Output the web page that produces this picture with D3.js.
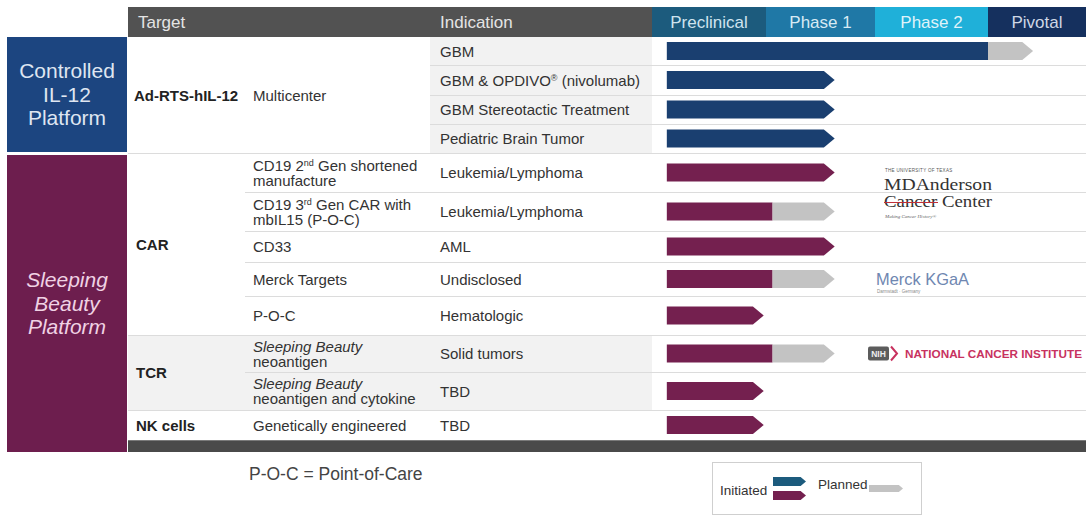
<!DOCTYPE html>
<html><head><meta charset="utf-8">
<script src="https://cdn.jsdelivr.net/npm/d3@7"></script>
<style>body{margin:0;background:#fff}svg{display:block}</style>
</head><body>
<svg id="c" width="1086" height="517" font-family="Liberation Sans, Arial, Helvetica, sans-serif"></svg>
<script>
// ---------- data ----------
const phases = ["Preclinical", "Phase 1", "Phase 2", "Pivotal"];
const platforms = ["Controlled|IL-12|Platform", "Sleeping|Beauty|Platform"];
const platformOfRow = [0,0,0,0,1,1,1,1,1,1,1,1];
const targets = ["Ad-RTS-hIL-12", "CAR", "TCR", "NK cells"];
const targetOfRow = [0,0,0,0,1,1,1,1,1,2,2,3];
const subTargets = ["Multicenter", "CD19 2{nd} Gen shortened|manufacture", "CD19 3{rd} Gen CAR with|mbIL15 (P-O-C)", "CD33", "Merck Targets", "P-O-C", "*Sleeping Beauty|neoantigen", "*Sleeping Beauty|neoantigen and cytokine", "Genetically engineered"];
const subTargetOfRow = [0,0,0,0,1,2,3,4,5,6,7,8];
const indications = ["GBM", "GBM & OPDIVO{®} (nivolumab)", "GBM Stereotactic Treatment", "Pediatric Brain Tumor", "Leukemia/Lymphoma", "Leukemia/Lymphoma", "AML", "Undisclosed", "Hematologic", "Solid tumors", "TBD", "TBD"];
// progress in phase units (0 = start of Preclinical, 4 = end of Pivotal)
const barStart = 0.13;
const initiatedEnd = [3.0, 1.63, 1.63, 1.63, 1.63, 1.06, 1.63, 1.06, 0.98, 1.06, 0.98, 0.98];
const plannedEnd = [3.46, null, null, null, null, 1.63, null, 1.63, null, 1.63, null, null];
const partners = ["MD Anderson", "Merck KGaA", "National Cancer Institute"];
const partnerRow = [4, 7, 9];
const footnote = "P-O-C = Point-of-Care";
const legendLabels = ["Initiated", "Planned"];

// ---------- layout / style ----------
const rowHeights = [28,30,29,29,39,39,31,34,39,37,38,30];
const tableTop = 37;
const colX = {plat: 7, platW: 120, target: 128, sub: 245, ind: 430, phase: 652, right: 1086};
const platformColors = ["#1c4580", "#6d1e4e"];
const platformText = ["#dfe6f1", "#f0d2e4"];
const barColors = ["#1a3f70", "#74204f"];
const plannedColor = "#c3c3c3";
const phaseColors = ["#1c5b7d", "#1f78a6", "#1fb0d9", "#15305e"];
const phaseTextColors = ["#cfe4ef", "#d7eaf4", "#dff3fa", "#cfd7e5"];
const textColor = "#333";
const lineColor = "#dcdcdc";
const shade = "#f2f2f2";
const fs = 15;

const svg = d3.select("#c");
const x = d3.scaleLinear().domain([0,1,2,3,4]).range([652, 766, 875, 988, 1086]);

const rowY = [];
{ let y = tableTop; rowHeights.forEach(h => { rowY.push(y); y += h; }); rowY.push(y); }
const rowMid = i => (rowY[i] + rowY[i+1]) / 2;
const tableBottom = rowY[rowY.length-1];

function rich(sel, str, size) {
  const parts = str.split(/(\{[^}]*\})/).filter(s => s.length);
  let sup = false;
  parts.forEach(p => {
    if (p.startsWith("{")) {
      sel.append("tspan").attr("dy", -5).attr("font-size", size*0.6).text(p.slice(1,-1));
      sup = true;
    } else {
      const t = sel.append("tspan").text(p);
      if (sup) { t.attr("dy", 5); sup = false; }
    }
  });
}

// ---------- backgrounds ----------
svg.append("rect").attr("x", colX.ind).attr("y", rowY[0]).attr("width", colX.phase - colX.ind)
  .attr("height", rowY[4]-rowY[0]).attr("fill", shade);
{
  const rows = d3.range(12).filter(i => targetOfRow[i] === 2);
  svg.append("rect").attr("x", colX.target).attr("y", rowY[rows[0]]).attr("width", colX.phase - colX.target)
    .attr("height", rowY[rows[rows.length-1]+1] - rowY[rows[0]]).attr("fill", shade);
}

// header
svg.append("rect").attr("x", colX.target).attr("y", 7).attr("width", colX.phase - colX.target).attr("height", 30).attr("fill", "#525252");
svg.append("text").attr("x", 138).attr("y", 28).attr("font-size", 17).attr("fill", "#e4e4e4").text("Target");
svg.append("text").attr("x", 440).attr("y", 28).attr("font-size", 17).attr("fill", "#e4e4e4").text("Indication");
phases.forEach((p, i) => {
  svg.append("rect").attr("x", x(i)).attr("y", 7).attr("width", x(i+1)-x(i)).attr("height", 30).attr("fill", phaseColors[i]);
  svg.append("text").attr("x", (x(i)+x(i+1))/2).attr("y", 28).attr("text-anchor", "middle")
    .attr("font-size", 17).attr("fill", phaseTextColors[i]).text(p);
});

// platform boxes
platforms.forEach((p, k) => {
  const rows = d3.range(12).filter(i => platformOfRow[i] === k);
  const y0 = rowY[rows[0]] + (k === 0 ? 0 : 2);
  const y1 = k === 0 ? rowY[rows[rows.length-1]+1] - 1 : tableBottom + 12;
  svg.append("rect").attr("x", colX.plat).attr("y", y0).attr("width", colX.platW).attr("height", y1-y0).attr("fill", platformColors[k]);
  const lines = p.split("|");
  const cy = (y0 + y1) / 2 + 7;
  lines.forEach((l, j) => {
    svg.append("text").attr("x", colX.plat + colX.platW/2).attr("y", cy + (j - 1) * 23.5)
      .attr("text-anchor", "middle").attr("font-size", 21).attr("fill", platformText[k])
      .attr("font-style", k === 1 ? "italic" : "normal").text(l);
  });
});

// separators
for (let i = 1; i < 12; i++) {
  let x0 = colX.ind;
  if (targetOfRow[i] !== targetOfRow[i-1]) x0 = colX.target;
  else if (subTargetOfRow[i] !== subTargetOfRow[i-1]) x0 = colX.sub;
  svg.append("line").attr("x1", x0).attr("x2", colX.right).attr("y1", rowY[i]+0.5).attr("y2", rowY[i]+0.5)
    .attr("stroke", lineColor).attr("stroke-width", 1);
}
svg.append("rect").attr("x", colX.target).attr("y", tableBottom).attr("width", colX.right - colX.target).attr("height", 12).attr("fill", "#4a4a4a");
svg.append("line").attr("x1", colX.target).attr("x2", colX.right).attr("y1", tableBottom+0.5).attr("y2", tableBottom+0.5).attr("stroke", "#7a7a7a");

// targets
targets.forEach((t, k) => {
  const rows = d3.range(12).filter(i => targetOfRow[i] === k);
  const cy = (rowY[rows[0]] + rowY[rows[rows.length-1]+1]) / 2;
  svg.append("text").attr("x", k === 0 ? 134 : 136).attr("y", cy + 5.5).attr("font-size", fs).attr("font-weight", "bold")
    .attr("fill", "#222").text(t);
});
// sub targets
subTargets.forEach((s, k) => {
  const rows = d3.range(12).filter(i => subTargetOfRow[i] === k);
  const cy = (rowY[rows[0]] + rowY[rows[rows.length-1]+1]) / 2;
  const lines = s.split("|");
  const italicFirst = s.startsWith("*");
  lines.forEach((l, j) => {
    const txt = (j === 0 && italicFirst) ? l.slice(1) : l;
    const t = svg.append("text").attr("x", 253)
      .attr("y", cy + 5.5 + (j - (lines.length-1)/2) * 15)
      .attr("font-size", fs).attr("fill", textColor)
      .attr("font-style", (j === 0 && italicFirst) ? "italic" : "normal");
    rich(t, txt, fs);
  });
});
// indications
indications.forEach((s, i) => {
  const t = svg.append("text").attr("x", 440).attr("y", rowMid(i) + 5.5).attr("font-size", fs).attr("fill", textColor);
  rich(t, s, fs);
});

// bars
const barH = 18;
function arrowPath(x0, x1, y, h) {
  const t = Math.min(h * 0.6, x1 - x0);
  return `M${x0},${y}H${x1-t}L${x1},${y+h/2}L${x1-t},${y+h}H${x0}Z`;
}
initiatedEnd.forEach((e, i) => {
  const y = rowMid(i) - barH/2;
  const c = barColors[platformOfRow[i]];
  if (plannedEnd[i] == null) {
    svg.append("path").attr("d", arrowPath(x(barStart), x(e), y, barH)).attr("fill", c);
  } else {
    svg.append("rect").attr("x", x(barStart)).attr("y", y).attr("width", x(e) - x(barStart)).attr("height", barH).attr("fill", c);
    svg.append("path").attr("d", arrowPath(x(e), x(plannedEnd[i]), y, barH)).attr("fill", plannedColor);
  }
});

// partner logos (as text)
{
  const g = svg.append("g");
  const serif = "Liberation Serif, Times New Roman, serif";
  const yM = rowY[partnerRow[0]];
  g.append("text").attr("x", 885).attr("y", yM + 19).attr("font-size", 4.5).attr("fill", "#555").attr("letter-spacing", 0.3).text("THE UNIVERSITY OF TEXAS");
  g.append("text").attr("x", 884).attr("y", yM + 37).style("font-family", serif).attr("font-size", 16)
    .attr("fill", "#333").attr("textLength", 108).attr("lengthAdjust", "spacingAndGlyphs").text("MDAnderson");
  g.append("text").attr("x", 884).attr("y", yM + 54).style("font-family", serif).attr("font-size", 16)
    .attr("fill", "#333").attr("textLength", 108).attr("lengthAdjust", "spacingAndGlyphs").text("Cancer Center");
  g.append("line").attr("x1", 884).attr("x2", 938).attr("y1", yM + 49.5).attr("y2", yM + 49.5).attr("stroke", "#c0303a").attr("stroke-width", 1.2);
  g.append("text").attr("x", 885).attr("y", yM + 65).style("font-family", serif).attr("font-style", "italic")
    .attr("font-size", 5).attr("fill", "#666").text("Making Cancer History®");

  const yK = rowMid(partnerRow[1]);
  g.append("text").attr("x", 876).attr("y", yK + 6).attr("font-size", 17).attr("fill", "#6f87b1").attr("textLength", 93).attr("lengthAdjust", "spacingAndGlyphs").text(partners[1]);
  g.append("text").attr("x", 877).attr("y", yK + 14).attr("font-size", 4.5).attr("fill", "#8a8a8a").text("Darmstadt · Germany");

  const yN = rowMid(partnerRow[2]);
  g.append("rect").attr("x", 868).attr("y", yN - 7).attr("width", 21).attr("height", 14).attr("rx", 2).attr("fill", "#5c5c5c");
  g.append("text").attr("x", 878.5).attr("y", yN + 3.5).attr("text-anchor", "middle").attr("font-size", 8.5).attr("font-weight", "bold").attr("fill", "#eee").text("NIH");
  g.append("path").attr("d", `M891,${yN-7}L897,${yN}L891,${yN+7}`).attr("fill", "none").attr("stroke", "#c8325f").attr("stroke-width", 2);
  g.append("text").attr("x", 905).attr("y", yN + 4).attr("font-size", 10).attr("font-weight", "bold").attr("fill", "#c8325f")
    .attr("textLength", 177).attr("lengthAdjust", "spacingAndGlyphs").text(partners[2].toUpperCase());
}

// footnote
svg.append("text").attr("x", 249).attr("y", 480).attr("font-size", 17.5).attr("fill", "#444").text(footnote);

// legend
{
  const g = svg.append("g");
  g.append("rect").attr("x", 712.5).attr("y", 462.5).attr("width", 209).attr("height", 52).attr("fill", "#fff").attr("stroke", "#cfcfcf");
  g.append("text").attr("x", 720).attr("y", 495).attr("font-size", 13.5).attr("fill", textColor).text(legendLabels[0]);
  g.append("path").attr("d", arrowPath(773, 806, 477, 9)).attr("fill", phaseColors[0]);
  g.append("path").attr("d", arrowPath(773, 806, 491, 9)).attr("fill", barColors[1]);
  g.append("text").attr("x", 818).attr("y", 489).attr("font-size", 13.5).attr("fill", textColor).text(legendLabels[1]);
  g.append("path").attr("d", arrowPath(869, 903, 485, 7)).attr("fill", plannedColor);
}
</script>
</body></html>
